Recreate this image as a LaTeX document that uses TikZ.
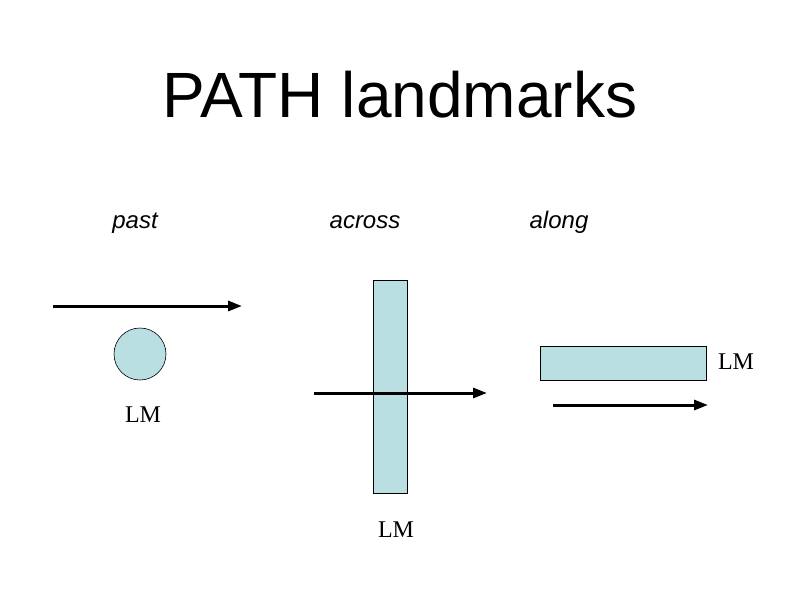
\documentclass[tikz,border=0pt]{standalone}
\usepackage{fontspec}
\setmainfont{Liberation Serif}
\setsansfont{Liberation Sans}
\usetikzlibrary{arrows.meta}
\definecolor{lmfill}{HTML}{B9DFE3}
\begin{document}
\begin{tikzpicture}[x=1pt,y=-1pt,
  path arrow/.style={line width=3pt,-{Triangle[length=14pt,width=10pt]}},
  lmbox/.style={draw=black,fill=lmfill,line width=0.6pt},
  lab/.style={font=\sffamily\itshape\fontsize{24}{28}\selectfont,anchor=base},
  lm/.style={font=\fontsize{24}{28}\selectfont,anchor=base}]
\useasboundingbox (0,0) rectangle (800,600);
\node[font=\sffamily\fontsize{64}{70}\selectfont,anchor=base] (title) at (400,117) {PATH landmarks};
\node[lab] (past) at (135,228) {past};
\node[lab] (across) at (365,228) {across};
\node[lab] (along) at (559,228) {along};
% past
\coordinate (p1) at (53,306); \coordinate (p2) at (242,306);
\draw[path arrow] (p1) -- (p2);
\node[lmbox,circle,minimum size=52pt,inner sep=0pt] (c) at (140,354) {};
\node[lm] (lm1) at (143,422) {LM};
% across
\node[lmbox,minimum width=34pt,minimum height=213pt,inner sep=0pt] (r1) at (390,386.5) {};
\coordinate (a1) at (314,393); \coordinate (a2) at (487,393);
\draw[path arrow] (a1) -- (a2);
\node[lm] (lm2) at (396,537) {LM};
% along
\node[lmbox,minimum width=166pt,minimum height=34pt,inner sep=0pt] (r2) at (623,363) {};
\node[lm] (lm3) at (736,369) {LM};
\coordinate (b1) at (553,405); \coordinate (b2) at (708,405);
\draw[path arrow] (b1) -- (b2);
\end{tikzpicture}
\end{document}
